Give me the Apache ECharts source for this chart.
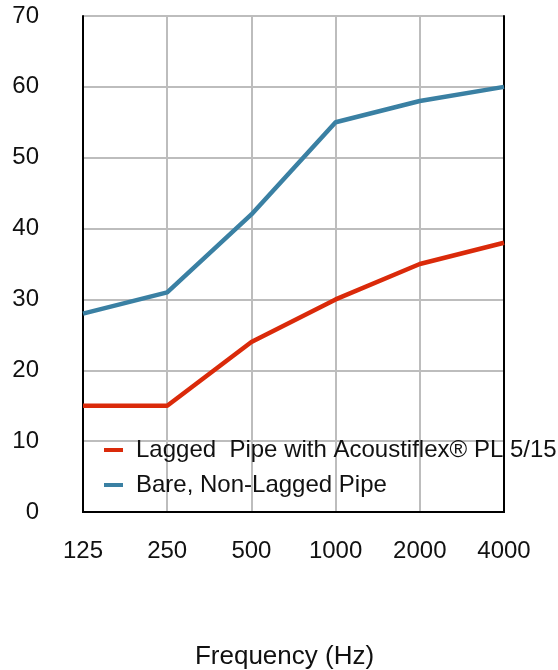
<!DOCTYPE html>
<html>
<head>
<meta charset="utf-8">
<script src="https://cdn.jsdelivr.net/npm/echarts@6/dist/echarts.min.js"></script>
<style>html,body{margin:0;padding:0;background:#fff}#c{width:558px;height:670px}</style>
</head>
<body>
<div id="c"></div>
<script>
var categories = ['125', '250', '500', '1000', '2000', '4000'];
var laggedValues = [15, 15, 24, 30, 35, 38];
var bareValues = [28, 31, 42, 55, 58, 60];
var seriesNames = ['Lagged  Pipe with Acoustiflex® PL 5/15', 'Bare, Non-Lagged Pipe'];
var xAxisTitle = 'Frequency (Hz)';

var chart = echarts.init(document.getElementById('c'));
var font = 'Liberation Sans, Arial, Helvetica, sans-serif';
var frameLine = { show: true, lineStyle: { color: '#000', width: 2 } };
chart.setOption({
  animation: false,
  textStyle: { fontFamily: font },
  grid: { left: 83, right: 54, top: 16, bottom: 158, outerBoundsMode: 'none', containLabel: false },
  legend: {
    left: 99, top: 433, orient: 'vertical', itemGap: 11,
    icon: 'rect', itemWidth: 19, itemHeight: 4,
    textStyle: { fontSize: 24, color: '#111', fontFamily: font, padding: [0, 0, 0, 8] },
    data: seriesNames
  },
  xAxis: [{
    type: 'category', data: categories, boundaryGap: false,
    name: xAxisTitle, nameLocation: 'middle', nameGap: 132,
    nameTextStyle: { fontSize: 26, color: '#111', padding: [0, 18, 0, 0] },
    axisLine: frameLine,
    axisTick: { show: false },
    axisLabel: { fontSize: 24, color: '#111', margin: 27 },
    splitLine: { show: true, lineStyle: { color: '#bdbdbd', width: 2 } }
  }, {
    type: 'category', data: categories, boundaryGap: false, position: 'top',
    axisLine: frameLine, axisTick: { show: false }, axisLabel: { show: false }, splitLine: { show: false }
  }],
  yAxis: [{
    type: 'value', min: 0, max: 70, interval: 10,
    axisLine: frameLine,
    axisTick: { show: false },
    axisLabel: { fontSize: 24, color: '#111', margin: 44 },
    splitLine: { show: true, lineStyle: { color: '#bdbdbd', width: 2 } }
  }, {
    type: 'value', min: 0, max: 70, interval: 10, position: 'right',
    axisLine: frameLine, axisTick: { show: false }, axisLabel: { show: false }, splitLine: { show: false }
  }],
  series: [
    { name: seriesNames[0], type: 'line', data: laggedValues, symbol: 'none', lineStyle: { color: '#DA2A0A', width: 4.5 }, itemStyle: { color: '#DA2A0A' } },
    { name: seriesNames[1], type: 'line', data: bareValues, symbol: 'none', lineStyle: { color: '#3A80A3', width: 4.5 }, itemStyle: { color: '#3A80A3' } }
  ]
});
</script>
</body>
</html>
